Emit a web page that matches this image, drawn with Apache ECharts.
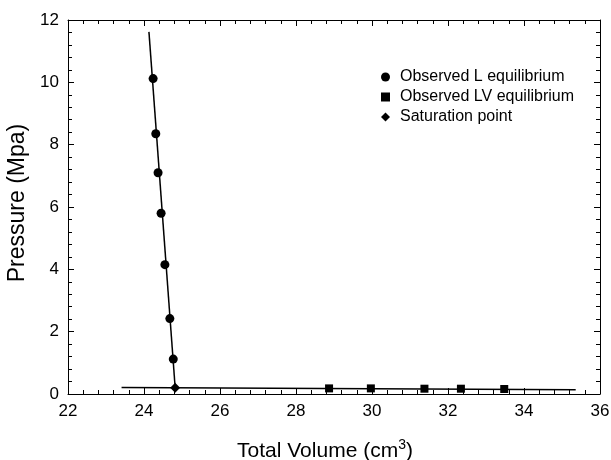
<!DOCTYPE html>
<html>
<head>
<meta charset="utf-8">
<script src="https://cdn.jsdelivr.net/npm/echarts@6/dist/echarts.min.js"></script>
<style>
  html, body { margin: 0; padding: 0; background: #fff; }
  #chart { width: 611px; height: 460px; }
</style>
</head>
<body>
<div id="chart"></div>
<script>
var liquidPoints = [[24.24, 10.12], [24.31, 8.35], [24.37, 7.1], [24.45, 5.8], [24.55, 4.15], [24.68, 2.42], [24.77, 1.12]]
var vaporPoints = [[28.87, 0.18], [29.97, 0.18], [31.38, 0.17], [32.34, 0.17], [33.48, 0.16]]
var saturationPoint = [[24.82, 0.2]]
// fitted curves
var liquidLine = [[24.13, 11.62], [24.82, 0.2]]
var vaporLine = [[23.41, 0.21], [35.36, 0.14]]

var font = 'Liberation Sans, Arial, Helvetica, sans-serif'

var chart = echarts.init(document.getElementById('chart'))

function frameAxis (pos, show) {
  return {
    type: 'value',
    position: pos,
    axisLine: { show: true, onZero: false, lineStyle: { color: '#000', width: 1 } },
    axisTick: { show: true, inside: true, length: 6, lineStyle: { color: '#000' } },
    minorTick: { show: true, splitNumber: 5, length: 4, lineStyle: { color: '#000' } },
    splitLine: { show: false },
    axisLabel: { show: show, color: '#000', fontFamily: font, fontSize: 17 }
  }
}

var xBottom = Object.assign(frameAxis('bottom', true), {
  min: 22, max: 36, interval: 2,
  name: 'Total Volume (cm{sup|3})',
  nameLocation: 'middle',
  nameGap: 44,
  nameTextStyle: {
    color: '#000', fontFamily: font, fontSize: 21,
    padding: [0, 18, 0, 0],
    rich: { sup: { fontSize: 14, verticalAlign: 'top', padding: [0, 0, 12, 0], color: '#000', fontFamily: font } }
  }
})
xBottom.axisLabel.margin = 9
var xTop = Object.assign(frameAxis('top', false), { min: 22, max: 36, interval: 2 })

var yLeft = Object.assign(frameAxis('left', true), {
  min: 0, max: 12, interval: 2,
  name: 'Pressure (Mpa)',
  nameLocation: 'middle',
  nameGap: 37,
  nameTextStyle: { color: '#000', fontFamily: font, fontSize: 23, padding: [0, 0, 0, 8] }
})
yLeft.axisLabel.margin = 9
var yRight = Object.assign(frameAxis('right', false), { min: 0, max: 12, interval: 2 })

var option = {
  backgroundColor: '#fff',
  animation: false,
  grid: { left: 68, right: 11, top: 20, bottom: 66, outerBoundsMode: 'none', containLabel: false },
  legend: {
    orient: 'vertical',
    left: 376,
    top: 64,
    itemWidth: 9,
    itemHeight: 9,
    itemGap: 4,
    textStyle: { color: '#000', fontFamily: font, fontSize: 16, padding: [0, 0, 0, 5] },
    data: [
      { name: 'Observed L equilibrium', icon: 'circle' },
      { name: 'Observed LV equilibrium', icon: 'rect' },
      { name: 'Saturation point', icon: 'diamond' }
    ]
  },
  xAxis: [xBottom, xTop],
  yAxis: [yLeft, yRight],
  series: [
    {
      type: 'line', data: liquidLine, symbol: 'none', silent: true,
      lineStyle: { color: '#000', width: 1.5 }
    },
    {
      type: 'line', data: vaporLine, symbol: 'none', silent: true,
      lineStyle: { color: '#000', width: 1.5 }
    },
    {
      name: 'Observed L equilibrium', type: 'scatter', data: liquidPoints,
      symbol: 'circle', symbolSize: 9, itemStyle: { color: '#000', opacity: 1 }
    },
    {
      name: 'Observed LV equilibrium', type: 'scatter', data: vaporPoints,
      symbol: 'rect', symbolSize: 8, itemStyle: { color: '#000', opacity: 1 }
    },
    {
      name: 'Saturation point', type: 'scatter', data: saturationPoint,
      symbol: 'diamond', symbolSize: 10, itemStyle: { color: '#000', opacity: 1 }
    }
  ]
}
chart.setOption(option)
</script>
</body>
</html>
